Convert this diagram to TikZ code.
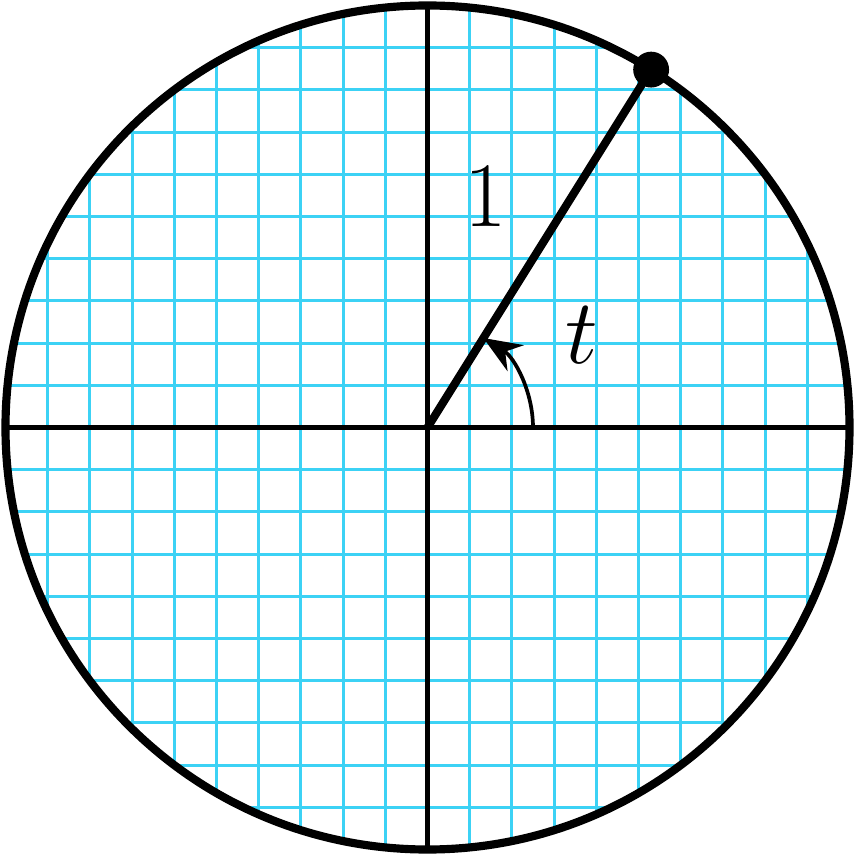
\documentclass[tikz,border=0pt]{standalone}
\usetikzlibrary{arrows.meta}
\definecolor{gridcyan}{RGB}{60,210,245}
\begin{document}
\begin{tikzpicture}[font=\fontsize{31}{37}\selectfont]
\useasboundingbox (-4.052,-4.052) rectangle (4.052,4.052);
\coordinate (O) at (0,0);
\coordinate (P) at (58:4);
\begin{scope}
\clip (O) circle (4);
\draw[gridcyan, line width=0.8pt, step=0.4] (-4,-4) grid (4,4);
\end{scope}
\draw[line width=1.3pt] (-4,0) -- (4,0);
\draw[line width=1.3pt] (0,-4) -- (0,4);
\draw[line width=2.2pt] (O) circle (4);
\draw[line width=2.2pt] (O) -- (P);
\fill (P) circle (0.17);
\draw[line width=1pt, -{Stealth[length=3.6mm, width=2.9mm]}] (1,0) arc (0:58:1);
\node (one) at (0.555,2.185) {$1$};
\node (angle) at (1.46,0.88) {$t$};
\end{tikzpicture}
\end{document}
